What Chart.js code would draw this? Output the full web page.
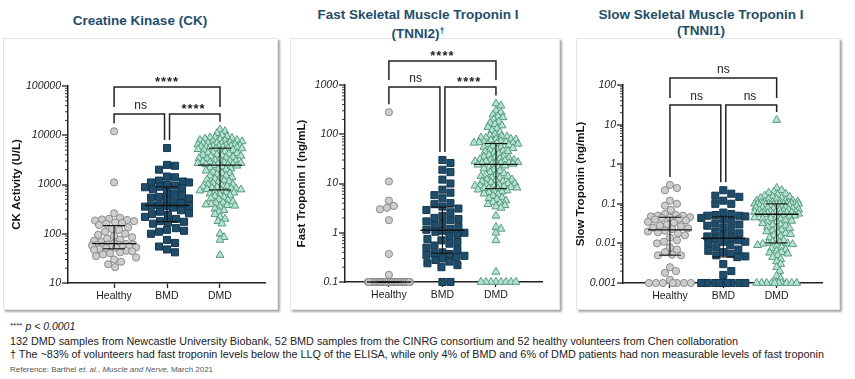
<!DOCTYPE html>
<html>
<head>
<meta charset="utf-8">
<script src="https://cdn.jsdelivr.net/npm/chart.js@4.4.1/dist/chart.umd.min.js"></script>
<style>
body { margin: 0; width: 855px; height: 379px; background: #fff; position: relative; overflow: hidden; font-family: "Liberation Sans", Arial, sans-serif; }
.box { position: absolute; top: 38px; height: 270px; background: #fff; border: 1px solid #e6e6e6; box-shadow: 2px 2px 2px rgba(0,0,0,.35); }
.title { position: absolute; width: 300px; text-align: center; color: #1f4e6b; font-weight: bold; font-size: 13.5px; line-height: 16px; }
canvas { position: absolute; top: 40px; }
.note { position: absolute; left: 10px; white-space: nowrap; color: #222; transform-origin: 0 50%; }
</style>
</head>
<body>
<div class="box" style="left:3px;width:273px"></div>
<div class="box" style="left:290px;width:268px"></div>
<div class="box" style="left:576px;width:262px"></div>

<div class="title" style="left:-10px;top:13px">Creatine Kinase (CK)</div>
<div class="title" style="left:268px;top:7px">Fast Skeletal Muscle Troponin I<br>(TNNI2)<span style="font-size:9px;vertical-align:4px">†</span></div>
<div class="title" style="left:551px;top:7px">Slow Skeletal Muscle Troponin I<br>(TNNI1)</div>

<canvas id="chart1" width="280" height="270" style="left:0px"></canvas>
<canvas id="chart2" width="275" height="270" style="left:288px"></canvas>
<canvas id="chart3" width="276" height="270" style="left:566px"></canvas>

<div class="note" style="top:320px;font-size:10.5px"><span style="font-size:8px;vertical-align:2px">****</span> <i>p &lt; 0.0001</i></div>
<div class="note" data-w="728" style="top:335px;font-size:11px">132 DMD samples  from Newcastle University Biobank, 52 BMD samples from the CINRG consortium and 52 healthy  volunteers  from Chen collaboration</div>
<div class="note" data-w="814" style="top:348px;font-size:11px">† The ~83% of volunteers had fast troponin levels below  the LLQ of the ELISA, while  only 4% of BMD and 6% of DMD patients had non measurable  levels  of fast troponin</div>
<div class="note" data-w="203" style="top:366px;font-size:7px;color:#555">Reference: Barthel <i>et. al.</i>, <i>Muscle and Nerve</i>, March 2021</div>

<script>
const categories = ['Healthy', 'BMD', 'DMD']

// Creatine kinase (U/L)
const ckHealthy = [12000, 1100, 260, 210, 200, 195, 190, 185, 180, 170, 165, 160, 150,
    135, 125, 120, 110, 100, 95, 90, 85, 80, 76, 72, 68, 64,
    62, 61, 60, 60, 59, 58, 57, 56, 55, 54, 53, 52, 51,
    49, 47, 45, 44, 42, 40, 38, 35, 33, 30, 27, 24, 21]
const ckBMD = [5500, 2500, 2400, 2000, 1450, 1400, 1200, 1150, 1100, 1100, 1000, 950, 900,
    880, 850, 800, 700, 650, 600, 560, 540, 520, 500, 450, 420, 380,
    370, 365, 360, 355, 340, 300, 280, 260, 250, 240, 220, 200, 180,
    175, 170, 160, 130, 120, 115, 110, 100, 75, 65, 55, 48, 42]
const ckDMD = [13000, 12000, 11000, 10000, 9500, 9000, 9000, 8800, 8500, 8200, 8000, 8000, 7800, 7500, 7500, 7200, 7000,
    7000, 6800, 6800, 6500, 6500, 6300, 6200, 6000, 6000, 5900, 5800, 5800, 5700, 5600, 5600, 5500,
    5400, 5300, 5200, 5000, 5000, 4800, 4700, 4500, 4400, 4300, 4200, 4000, 4000, 3900, 3800, 3700, 3600,
    3500, 3400, 3300, 3200, 3100, 3000, 3000, 2900, 2800, 2800, 2700, 2700, 2600, 2600, 2550, 2500,
    2450, 2400, 2300, 2200, 2100, 2000, 2000, 1900, 1800, 1700, 1700, 1600, 1500, 1500, 1400, 1350, 1300,
    1250, 1200, 1150, 1100, 1050, 1000, 1000, 950, 920, 900, 880, 850, 830, 820, 800, 790,
    770, 750, 720, 700, 680, 650, 620, 600, 580, 550, 520, 500, 480, 450, 430, 420, 400,
    390, 380, 370, 350, 320, 300, 280, 250, 220, 200, 180, 160, 100, 85, 75, 37]

// Fast skeletal troponin I (ng/mL), values under the LLQ sit at 0.1
const fastHealthy = [280, 11, 4.5, 3.5, 3.2, 3.0, 1.8, 0.37, 0.14,
    0.1, 0.1, 0.1, 0.1, 0.1, 0.1, 0.1, 0.1, 0.1, 0.1, 0.1, 0.1, 0.1, 0.1, 0.1,
    0.1, 0.1, 0.1, 0.1, 0.1, 0.1, 0.1, 0.1, 0.1, 0.1, 0.1, 0.1, 0.1, 0.1, 0.1,
    0.1, 0.1, 0.1, 0.1, 0.1, 0.1, 0.1, 0.1, 0.1, 0.1, 0.1, 0.1, 0.1]
const fastBMD = [30, 26, 19, 17, 12, 10, 7.5, 6.5, 5.8, 5, 4, 3.8, 3.4,
    3.1, 2.9, 2.6, 2.2, 2.0, 1.9, 1.8, 1.7, 1.5, 1.4, 1.3, 1.2, 1.15,
    1.1, 1.05, 1.0, 0.95, 0.85, 0.75, 0.7, 0.65, 0.6, 0.55, 0.5, 0.45, 0.4,
    0.38, 0.37, 0.35, 0.34, 0.32, 0.3, 0.28, 0.26, 0.24, 0.22, 0.2, 0.1, 0.1]
const fastDMD = [420, 380, 300, 280, 250, 230, 220, 200, 180, 170, 160, 150, 140, 130, 120, 110, 100,
    95, 90, 90, 85, 85, 80, 80, 78, 75, 72, 70, 70, 68, 67, 66, 65,
    64, 62, 60, 58, 56, 55, 52, 50, 48, 46, 45, 44, 42, 40, 38, 36, 35,
    34, 33, 32, 31, 30, 30, 29, 28, 28, 27, 27, 26, 26, 26, 25, 25,
    24, 23, 22, 21, 20, 19, 18, 17, 16, 15, 15, 14, 14, 13, 13, 12, 12,
    11.5, 11, 11, 10.5, 10, 10, 9.5, 9.5, 9, 9, 8.8, 8.6, 8.4, 8.2, 8.1, 8,
    7.8, 7.5, 7.2, 7.0, 6.8, 6.5, 6.2, 6.0, 5.6, 5.2, 5.0, 4.8, 4.5, 4.2, 4.0, 3.8, 3.6,
    3.4, 3.2, 2.2, 1.3, 1.2, 1.0, 0.7, 0.16, 0.1, 0.1, 0.1, 0.1, 0.1, 0.1, 0.1, 0.1]

// Slow skeletal troponin I (ng/mL), values under the LLQ sit at 0.001
const slowHealthy = [0.3, 0.25, 0.22, 0.12, 0.1, 0.09, 0.07, 0.055, 0.052, 0.05, 0.05, 0.048, 0.046,
    0.045, 0.044, 0.042, 0.04, 0.038, 0.035, 0.033, 0.03, 0.028, 0.027, 0.025, 0.024, 0.023,
    0.021, 0.02, 0.019, 0.018, 0.016, 0.014, 0.012, 0.011, 0.01, 0.008, 0.007, 0.006, 0.0052,
    0.005, 0.005, 0.0025, 0.002, 0.0018, 0.0012, 0.001, 0.001, 0.001, 0.001, 0.001, 0.001, 0.001]
const slowBMD = [0.22, 0.18, 0.16, 0.15, 0.12, 0.1, 0.1, 0.06, 0.055, 0.052, 0.05, 0.05, 0.048,
    0.044, 0.04, 0.035, 0.032, 0.03, 0.028, 0.025, 0.022, 0.02, 0.018, 0.016, 0.015, 0.014,
    0.013, 0.012, 0.011, 0.011, 0.01, 0.009, 0.008, 0.007, 0.0065, 0.006, 0.0055, 0.005, 0.0047,
    0.0045, 0.003, 0.002, 0.0016, 0.001, 0.001, 0.001, 0.001, 0.001, 0.001, 0.001, 0.001, 0.001]
const slowDMD = [13, 0.25, 0.22, 0.2, 0.19, 0.18, 0.17, 0.16, 0.15, 0.15, 0.14, 0.14, 0.13, 0.13, 0.12, 0.12, 0.12,
    0.115, 0.11, 0.11, 0.11, 0.105, 0.105, 0.1, 0.1, 0.1, 0.1, 0.1, 0.1, 0.1, 0.1, 0.1, 0.1,
    0.098, 0.095, 0.095, 0.092, 0.09, 0.09, 0.088, 0.085, 0.085, 0.082, 0.08, 0.08, 0.078, 0.075, 0.075, 0.072, 0.07,
    0.07, 0.068, 0.066, 0.065, 0.064, 0.062, 0.062, 0.06, 0.06, 0.059, 0.058, 0.058, 0.057, 0.056, 0.056, 0.055,
    0.054, 0.052, 0.05, 0.048, 0.046, 0.045, 0.043, 0.042, 0.04, 0.038, 0.037, 0.035, 0.034, 0.032, 0.03, 0.029, 0.028,
    0.026, 0.025, 0.024, 0.022, 0.021, 0.02, 0.019, 0.018, 0.017, 0.016, 0.015, 0.014, 0.013, 0.012, 0.011, 0.0105,
    0.0102, 0.01, 0.0098, 0.0095, 0.009, 0.0085, 0.008, 0.0075, 0.007, 0.0065, 0.006, 0.0058, 0.0055, 0.005, 0.0045, 0.004, 0.0035,
    0.003, 0.0025, 0.002, 0.0015, 0.0013, 0.001, 0.001, 0.001, 0.001, 0.001, 0.001, 0.001, 0.001, 0.001, 0.001, 0.001]

const ckTicks = [10, 100, 1000, 10000, 100000]
const ckTickLabels = ['10', '100', '1000', '10000', '100000']
const fastTicks = [0.1, 1, 10, 100, 1000]
const fastTickLabels = ['0.1', '1', '10', '100', '1000']
const slowTicks = [0.001, 0.01, 0.1, 1, 10, 100]
const slowTickLabels = ['0.001', '0.01', '0.1', '1', '10', '100']

// significance: Healthy-DMD, Healthy-BMD, BMD-DMD
const ckSig = ['****', 'ns', '****']
const fastSig = ['****', 'ns', '****']
const slowSig = ['ns', 'ns', 'ns']

const styles = [
    { shape: 'circle', r: 3.6, fill: '#cdcdcd', line: '#8a8a8a', sep: 7, box: false },
    { shape: 'rect', r: 5, fill: '#1e4d6b', line: '#15384f', sep: 7.2, box: true },
    { shape: 'triangle', r: 4.6, fill: '#b3e4cf', line: '#5a9a80', sep: 4.6, box: false }
]

const panels = [
    { id: 'chart1', yTitle: 'CK Activity (U/L)', groups: [ckHealthy, ckBMD, ckDMD], ticks: ckTicks, labels: ckTickLabels,
      sig: ckSig, xMin: 0.13, xMax: 3.85, pad: { left: 5.5, top: 46, right: 15, bottom: 2 }, yW: 62.5, upper: 1, lower: 28 },
    { id: 'chart2', yTitle: 'Fast Troponin I (ng/mL)', groups: [fastHealthy, fastBMD, fastDMD], ticks: fastTicks, labels: fastTickLabels,
      sig: fastSig, xMin: 0.18, xMax: 3.86, pad: { left: 3, top: 45, right: 21, bottom: 3 }, yW: 54, upper: -24, lower: 2 },
    { id: 'chart3', yTitle: 'Slow Troponin (ng/mL)', groups: [slowHealthy, slowBMD, slowDMD], ticks: slowTicks, labels: slowTickLabels,
      sig: slowSig, xMin: 0.12, xMax: 3.85, pad: { left: 4, top: 45, right: 20, bottom: 2 }, yW: 53, upper: -7, lower: 20 }
]

function pct(vals, p) {
    const s = [...vals].sort((a, b) => a - b)
    const pos = Math.min(Math.max((s.length + 1) * p - 1, 0), s.length - 1)
    const lo = Math.floor(pos), hi = Math.min(lo + 1, s.length - 1)
    return s[lo] + (s[hi] - s[lo]) * (pos - lo)
}

// simple beeswarm: each point takes the free spot nearest the centre line
function swarm(vals, toPix, st, maxHalf) {
    const order = vals.map((v, i) => i).sort((a, b) => vals[b] - vals[a])
    const placed = []
    const offs = new Array(vals.length).fill(0)
    for (const i of order) {
        const py = toPix(vals[i])
        let best = 0, bestD = -1
        for (let k = 0; k <= maxHalf * 2; k++) {
            const dx = k === 0 ? 0 : (k % 2 ? (k + 1) / 2 : -k / 2)
            let d = Infinity
            for (const q of placed) {
                const a = Math.abs(q.x - dx), b = Math.abs(q.y - py)
                const dd = st.box ? Math.max(a, b) : Math.hypot(a, b)
                if (dd < d) d = dd
            }
            if (d >= st.sep) { best = dx; bestD = d; break }
            if (d > bestD) { bestD = d; best = dx }
        }
        offs[i] = best
        placed.push({ x: best, y: py })
    }
    return offs
}

function decor(p) {
    return {
        id: 'decor',
        afterDatasetsDraw(chart) {
            const { ctx, chartArea, scales: { x, y } } = chart
            const left = chartArea.left
            ctx.save()
            ctx.strokeStyle = '#222'
            const seg = (x1, y1, x2, y2) => { ctx.beginPath(); ctx.moveTo(x1, y1); ctx.lineTo(x2, y2); ctx.stroke() }

            // y tick marks, major and minor
            p.ticks.forEach((t, k) => {
                ctx.lineWidth = 1.3
                const py = Math.round(y.getPixelForValue(t))
                seg(left - 6, py, left, py)
                if (k < p.ticks.length - 1) {
                    ctx.lineWidth = 0.9
                    for (let m = 2; m <= 9; m++) {
                        const my = y.getPixelForValue(t * m)
                        seg(left - 3, my, left, my)
                    }
                }
            })

            // median with interquartile range
            ctx.strokeStyle = '#111'
            p.groups.forEach((vals, i) => {
                const cx = x.getPixelForValue(i + 1)
                const med = y.getPixelForValue(pct(vals, 0.5))
                const q1 = y.getPixelForValue(pct(vals, 0.25))
                const q3 = y.getPixelForValue(pct(vals, 0.75))
                ctx.lineWidth = 1.4
                seg(cx - 22, med, cx + 22, med)
                ctx.lineWidth = 1.1
                seg(cx - 11, q1, cx + 11, q1)
                seg(cx - 11, q3, cx + 11, q3)
                seg(cx, q1, cx, q3)
            })

            // significance brackets
            const cx = [1, 2, 3].map(v => x.getPixelForValue(v))
            const yU = chartArea.top + p.upper
            const yL = chartArea.top + p.lower
            const legEnd = p.groups.map(vals => y.getPixelForValue(Math.max(...vals)) - 8)
            ctx.strokeStyle = '#222'
            ctx.lineWidth = 1.5
            ctx.beginPath()
            ctx.moveTo(cx[0], yL - 7); ctx.lineTo(cx[0], yU); ctx.lineTo(cx[2], yU); ctx.lineTo(cx[2], yL - 7)
            ctx.moveTo(cx[0], legEnd[0]); ctx.lineTo(cx[0], yL); ctx.lineTo(cx[1] - 2.5, yL); ctx.lineTo(cx[1] - 2.5, legEnd[1])
            ctx.moveTo(cx[1] + 2.5, legEnd[1]); ctx.lineTo(cx[1] + 2.5, yL); ctx.lineTo(cx[2], yL); ctx.lineTo(cx[2], legEnd[2])
            ctx.stroke()

            ctx.fillStyle = '#222'
            ctx.textAlign = 'center'
            ctx.textBaseline = 'alphabetic'
            const label = (txt, xm, yl) => {
                if (txt === 'ns') {
                    ctx.font = '12px "Liberation Sans", Arial'
                    ctx.letterSpacing = '0px'
                    ctx.fillText(txt, xm, yl - 5)
                } else {
                    ctx.font = 'bold 13px "Liberation Sans", Arial'
                    ctx.letterSpacing = '1px'
                    ctx.fillText(txt, xm, yl - 1)
                }
            }
            label(p.sig[0], (cx[0] + cx[2]) / 2, yU)
            label(p.sig[1], (cx[0] + cx[1]) / 2, yL)
            label(p.sig[2], (cx[1] + cx[2]) / 2, yL)
            ctx.restore()
        }
    }
}

function makeChart(p) {
    const ctx = document.querySelector('#' + p.id).getContext('2d')
    const chart = new Chart(ctx, {
        type: 'scatter',
        data: {
            datasets: p.groups.map((vals, i) => ({
                label: categories[i],
                data: vals.map(v => ({ x: i + 1, y: v })),
                pointStyle: styles[i].shape,
                radius: styles[i].r,
                backgroundColor: styles[i].fill,
                borderColor: styles[i].line,
                borderWidth: 1,
                clip: false
            }))
        },
        options: {
            responsive: false,
            animation: false,
            layout: { padding: p.pad },
            plugins: { legend: { display: false }, tooltip: { enabled: false } },
            scales: {
                x: {
                    type: 'linear', min: p.xMin, max: p.xMax,
                    afterBuildTicks: s => { s.ticks = [1, 2, 3].map(v => ({ value: v })) },
                    afterFit: s => { s.height = 25 },
                    ticks: {
                        callback: v => categories[Math.round(v) - 1],
                        color: '#222', font: { family: '"Liberation Sans", Arial', size: 10.5 },
                        padding: 2, autoSkip: false, maxRotation: 0
                    },
                    grid: { drawOnChartArea: false, tickLength: 5, tickColor: '#222', tickWidth: 1.3 },
                    border: { color: '#222', width: 1.5 }
                },
                y: {
                    type: 'logarithmic', min: p.ticks[0], max: p.ticks[p.ticks.length - 1],
                    afterBuildTicks: s => { s.ticks = p.ticks.map(v => ({ value: v })) },
                    afterFit: s => { s.width = p.yW },
                    ticks: {
                        callback: (v, i) => p.labels[i],
                        color: '#222', font: { family: '"Liberation Sans", Arial', size: 10.5, style: 'italic' },
                        padding: 7, autoSkip: false
                    },
                    grid: { drawOnChartArea: false, drawTicks: false },
                    border: { color: '#222', width: 1.5 },
                    title: {
                        display: true, text: p.yTitle, color: '#111',
                        font: { family: '"Liberation Sans", Arial', size: 11.5, weight: 'bold' }
                    }
                }
            }
        },
        plugins: [decor(p)]
    })

    // spread points sideways now that the scales know their pixels
    const { x, y } = chart.scales
    const unit = x.getPixelForValue(2) - x.getPixelForValue(1)
    chart.data.datasets.forEach((ds, i) => {
        const vals = p.groups[i]
        const offs = swarm(vals, v => y.getPixelForValue(v), styles[i], 22)
        ds.data = vals.map((v, k) => ({ x: i + 1 + offs[k] / unit, y: v }))
    })
    chart.update('none')
}

panels.forEach(makeChart)

document.querySelectorAll('[data-w]').forEach(el => {
    const w = el.getBoundingClientRect().width
    el.style.transform = 'scaleX(' + (+el.dataset.w / w) + ')'
})
</script>
</body>
</html>
